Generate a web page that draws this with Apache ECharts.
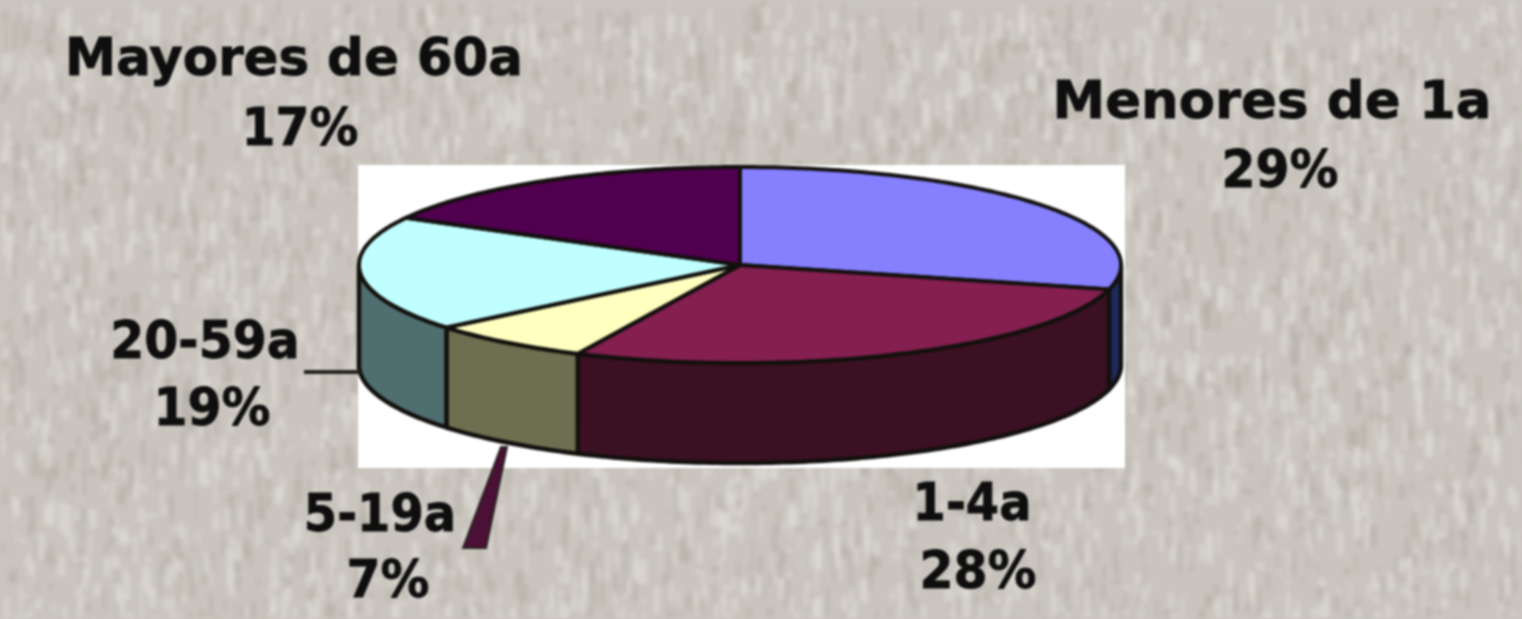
<!DOCTYPE html>
<html>
<head>
<meta charset="utf-8">
<title>Distribución por edad</title>
<script src="https://cdn.jsdelivr.net/npm/echarts@6/dist/echarts.min.js"></script>
<style>
    html, body { margin: 0; padding: 0; background: #c9c5be; overflow: hidden; }
    #main { width: 1522px; height: 619px; filter: blur(1.1px); }
</style>
</head>
<body>
<div id="main"></div>
<script>
// valores
var categories = ['Menores de 1a', '1-4a', '5-19a', '20-59a', 'Mayores de 60a'];
var percents = [29, 28, 7, 19, 17];

var topColors = ['#8680ff', '#841f50', '#ffffbf', '#bfffff', '#50004f'];
var sideColors = ['#1f2a5c', '#3b1022', '#6e6e50', '#4f6e70', '#2a0028'];

// posicion de cada rotulo: [x nombre, y nombre, x %, y %]
var labelPos = [
    [1272, 105, 1280, 174],
    [972, 507, 978, 575],
    [380, 518, 388, 584],
    [205, 345, 212, 412],
    [294, 62, 300, 132]
];
// estiramiento horizontal del nombre, el original va mas espaciado
var labelStretch = [1.125, 1.02, 1.02, 1.04, 1.095];

var CX = 740, CY = 265, RX = 381, RY = 98, DEPTH = 100;
var LABEL_FONT = 'bold 47px "DejaVu Sans"';
var EDGE = '#12100d';

var total = percents.reduce(function (a, b) { return a + b; }, 0);

function ellipsePoint(deg, dy) {
    var r = deg * Math.PI / 180;
    return [CX + RX * Math.sin(r), CY - RY * Math.cos(r) + (dy || 0)];
}

function arcPoints(from, to, dy) {
    var pts = [];
    for (var d = from; d < to; d += 1) {
        pts.push(ellipsePoint(d, dy));
    }
    pts.push(ellipsePoint(to, dy));
    return pts;
}

function startAngle(index) {
    var sum = 0;
    for (var i = 0; i < index; i++) {
        sum += percents[i];
    }
    return sum / total * 360;
}

function labelText(text, x, y, stretch) {
    return {
        type: 'text',
        z2: 3,
        x: x,
        y: y,
        scaleX: stretch,
        scaleY: 1.08,
        style: {
            text: text,
            font: LABEL_FONT,
            fill: '#0e0e0e',
            stroke: '#0e0e0e',
            lineWidth: 0.8,
            textAlign: 'center',
            textVerticalAlign: 'middle'
        }
    };
}

function renderSlice(params, api) {
    var i = params.dataIndex;
    var a0 = startAngle(i);
    var a1 = a0 + api.value(1) / total * 360;
    var children = [];

    // pared frontal, solo la parte visible entre 90 y 270 grados
    var s0 = Math.max(a0, 90), s1 = Math.min(a1, 270);
    if (s1 > s0) {
        var wall = arcPoints(s0, s1, 0).concat(arcPoints(s0, s1, DEPTH).reverse());
        children.push({
            type: 'polygon',
            z2: 1,
            shape: {points: wall},
            style: {fill: sideColors[i], stroke: EDGE, lineWidth: 4.5, lineJoin: 'round'}
        });
    }

    // cara superior
    var face = [[CX, CY]].concat(arcPoints(a0, a1, 0));
    children.push({
        type: 'polygon',
        z2: 2,
        shape: {points: face},
        style: {fill: topColors[i], stroke: EDGE, lineWidth: 4, lineJoin: 'round'}
    });

    // rotulos
    var pos = labelPos[i];
    children.push(labelText(categories[i], pos[0], pos[1], labelStretch[i]));
    children.push(labelText(api.value(1) + '%', pos[2], pos[3], 1.04));
    return {type: 'group', children: children};
}

/**
 * textura de fondo: vetas verticales claras sobre gris piedra
 */
function buildTexture() {
    var raw = document.createElement('canvas');
    raw.width = 1522;
    raw.height = 619;
    var rawCtx = raw.getContext('2d');
    rawCtx.fillStyle = '#c9c5be';
    rawCtx.fillRect(0, 0, raw.width, raw.height);
    var seed = 12345;
    function next() {
        seed = (seed * 16807) % 2147483647;
        return seed / 2147483647;
    }
    for (var n = 0; n < 5200; n++) {
        var light = next() > 0.45;
        rawCtx.fillStyle = light ? 'rgba(225,222,216,0.55)' : 'rgba(175,170,162,0.45)';
        rawCtx.fillRect(next() * raw.width, next() * raw.height, 2 + next() * 5, 4 + next() * 26);
    }
    var c = document.createElement('canvas');
    c.width = raw.width;
    c.height = raw.height;
    var ctx = c.getContext('2d');
    ctx.filter = 'blur(2px)';
    ctx.drawImage(raw, 0, 0);
    return c;
}

var myChart = echarts.init(document.getElementById('main'));
var option = {
    animation: false,
    backgroundColor: {image: buildTexture(), repeat: 'no-repeat'},
    graphic: [
        {type: 'rect', z: 0, shape: {x: 358, y: 165, width: 767, height: 303}, style: {fill: '#ffffff'}},
        // lineas guia
        {type: 'line', z: 5, shape: {x1: 304, y1: 372, x2: 360, y2: 372}, style: {stroke: '#22221e', lineWidth: 4}},
        {
            type: 'polygon', z: 5,
            shape: {points: [[501, 447], [507, 447], [486, 548], [463, 548]]},
            style: {fill: '#4a1035', stroke: '#2a2420', lineWidth: 2}
        }
    ],
    series: [
        {
            type: 'custom',
            coordinateSystem: 'none',
            z: 3,
            silent: true,
            renderItem: renderSlice,
            data: percents.map(function (v, i) { return [i, v]; })
        }
    ]
};
myChart.setOption(option, true);
</script>
</body>
</html>
